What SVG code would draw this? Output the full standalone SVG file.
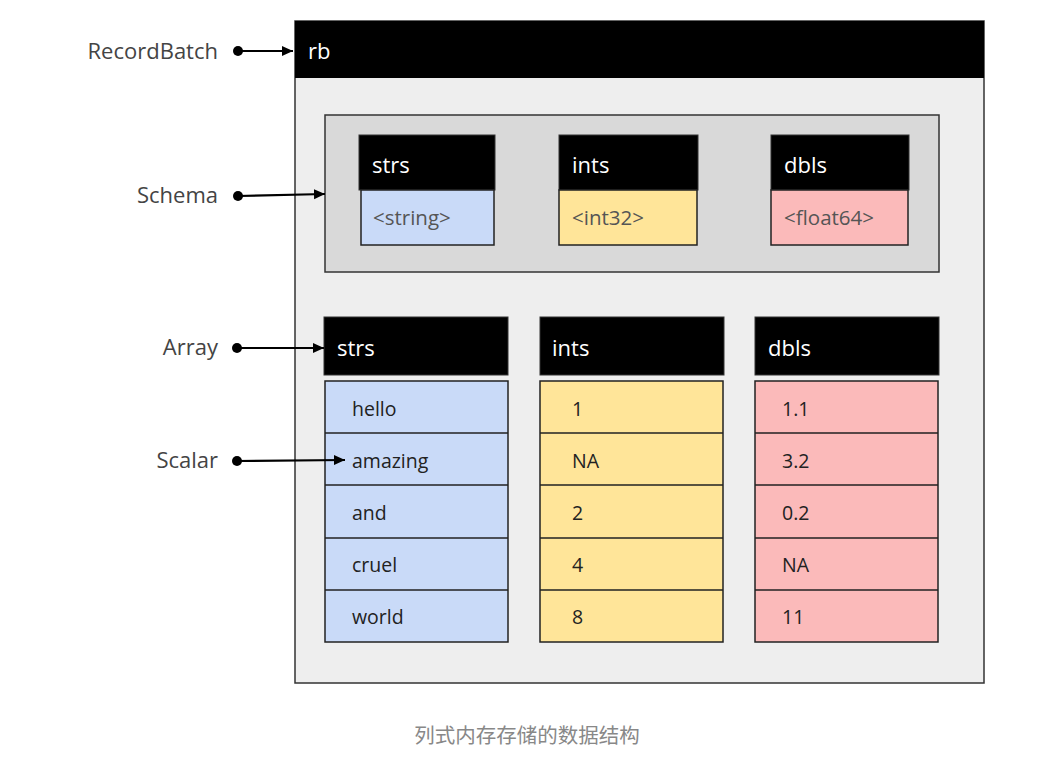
<svg xmlns="http://www.w3.org/2000/svg" width="1040" height="766" viewBox="0 0 1040 766">
<style>
text{font-family:"Open Sans","Noto Sans","Liberation Sans",sans-serif}
.lbl{font-size:22px;fill:#444;text-anchor:end}
.hdr{font-size:22px;fill:#fff}
.cell{font-size:19.5px;fill:#222}
.typ{font-size:20.5px;fill:#555}
.blk{fill:#000;stroke:#333;stroke-width:1}
.blue{fill:#c9daf8;stroke:#222;stroke-width:1.5}
.yel{fill:#ffe599;stroke:#222;stroke-width:1.5}
.pink{fill:#fbbaba;stroke:#222;stroke-width:1.5}
.conn{stroke:#000;stroke-width:2.2;fill:none;marker-end:url(#ah)}
.cap{font-family:"Noto Sans CJK SC","Open Sans",sans-serif;font-size:20.5px;fill:#888;text-anchor:middle}
</style>
<defs>
<marker id="ah" markerWidth="12" markerHeight="12" refX="11" refY="5.5" orient="auto" markerUnits="userSpaceOnUse">
<path d="M0,0.5 L11,5.5 L0,10.5 Z" fill="#000"/>
</marker>
</defs>
<rect width="1040" height="766" fill="#fff"/>

<g id="recordbatch">
<rect x="295" y="21" width="689" height="662" fill="#eeeeee" stroke="#333" stroke-width="1.5"/>
<rect x="295" y="21" width="689" height="57" fill="#000"/>
<text class="hdr" x="308" y="59">rb</text>
</g>

<g id="schema">
<rect x="325" y="115" width="614" height="157" fill="#d9d9d9" stroke="#333" stroke-width="1.5"/>
<g id="schema-strs">
<rect class="blk" x="359" y="135" width="136" height="55"/>
<text class="hdr" x="372" y="173">strs</text>
<rect class="blue" x="361" y="190" width="133" height="55"/>
<text class="typ" x="373" y="225">&lt;string&gt;</text>
</g>
<g id="schema-ints">
<rect class="blk" x="559" y="135" width="139" height="55"/>
<text class="hdr" x="572" y="173">ints</text>
<rect class="yel" x="559" y="190" width="138" height="55"/>
<text class="typ" x="572" y="225">&lt;int32&gt;</text>
</g>
<g id="schema-dbls">
<rect class="blk" x="771" y="135" width="138" height="55"/>
<text class="hdr" x="784" y="173">dbls</text>
<rect class="pink" x="771" y="190" width="137" height="55"/>
<text class="typ" x="784" y="225">&lt;float64&gt;</text>
</g>
</g>

<g id="array-strs">
<rect class="blk" x="324" y="317" width="184" height="58"/>
<text class="hdr" x="337" y="356">strs</text>
<rect class="blue" x="325" y="381" width="183" height="261"/>
<path d="M325,433H508M325,485H508M325,538H508M325,590H508" stroke="#222" stroke-width="1.5"/>
<text class="cell" x="352" y="416">hello</text>
<text class="cell" x="352" y="468">amazing</text>
<text class="cell" x="352" y="520">and</text>
<text class="cell" x="352" y="572">cruel</text>
<text class="cell" x="352" y="624">world</text>
</g>

<g id="array-ints">
<rect class="blk" x="540" y="317" width="184" height="58"/>
<text class="hdr" x="552" y="356">ints</text>
<rect class="yel" x="540" y="381" width="183" height="261"/>
<path d="M540,433H723M540,485H723M540,538H723M540,590H723" stroke="#222" stroke-width="1.5"/>
<text class="cell" x="572" y="416">1</text>
<text class="cell" x="572" y="468">NA</text>
<text class="cell" x="572" y="520">2</text>
<text class="cell" x="572" y="572">4</text>
<text class="cell" x="572" y="624">8</text>
</g>

<g id="array-dbls">
<rect class="blk" x="755" y="317" width="184" height="58"/>
<text class="hdr" x="768" y="356">dbls</text>
<rect class="pink" x="755" y="381" width="183" height="261"/>
<path d="M755,433H938M755,485H938M755,538H938M755,590H938" stroke="#222" stroke-width="1.5"/>
<text class="cell" x="782" y="416">1.1</text>
<text class="cell" x="782" y="468">3.2</text>
<text class="cell" x="782" y="520">0.2</text>
<text class="cell" x="782" y="572">NA</text>
<text class="cell" x="782" y="624">11</text>
</g>

<g id="labels">
<text class="lbl" x="218" y="59">RecordBatch</text>
<text class="lbl" x="218" y="203">Schema</text>
<text class="lbl" x="218" y="355">Array</text>
<text class="lbl" x="218" y="468">Scalar</text>
</g>

<g id="connectors">
<circle cx="238" cy="51" r="5" fill="#000"/>
<path class="conn" d="M238,51H293"/>
<circle cx="238" cy="196" r="5" fill="#000"/>
<path class="conn" d="M238,196L325,194"/>
<circle cx="237" cy="348" r="5" fill="#000"/>
<path class="conn" d="M237,348H324"/>
<circle cx="237" cy="461" r="5" fill="#000"/>
<path class="conn" d="M237,461L345,460"/>
</g>

<text class="cap" x="527" y="743">列式内存存储的数据结构</text>
</svg>
